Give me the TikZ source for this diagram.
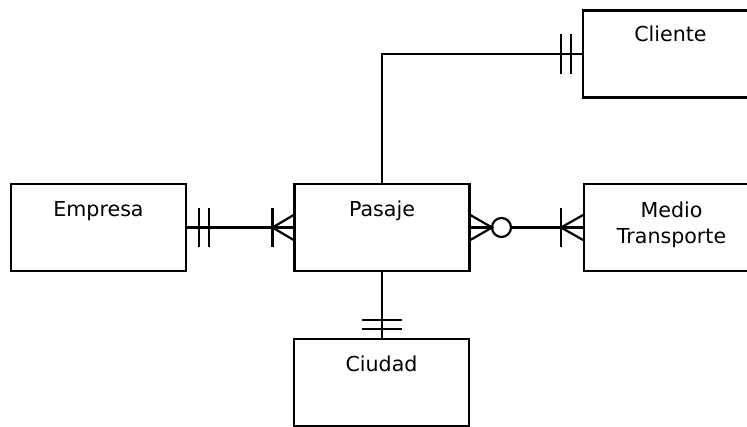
\documentclass[tikz,border=0pt]{standalone}
\usepackage{fontspec}
\setmainfont{DejaVu Sans}
\usetikzlibrary{calc}
\begin{document}
\begin{tikzpicture}[x=1pt,y=-1pt,
  ent/.style={draw,line width=2.2pt,minimum width=175pt,minimum height=87pt,inner sep=0pt,outer sep=0pt},
  lbl/.style={anchor=base,inner sep=0pt,align=center,font=\fontsize{20.6}{26}\selectfont},
  rel/.style={line width=2.2pt}]
\clip (0,0) rectangle (747,426);
\node[ent] (empresa) at (98.5,227.5) {};
\node[ent] (pasaje) at (382,227.5) {};
\node[ent] (medio) at (671.5,227.5) {};
\node[ent] (cliente) at (670.5,54) {};
\node[ent] (ciudad) at (381.5,382.5) {};
\node[lbl] (empresa-t) at ($(empresa.north)+(0,32)$) {Empresa};
\node[lbl] (pasaje-t) at ($(pasaje.north)+(0,32)$) {Pasaje};
\node[lbl] (medio-t) at ($(medio.north)+(0,59)$) {Medio\\Transporte};
\node[lbl] (cliente-t) at ($(cliente.north)+(0,31)$) {Cliente};
\node[lbl] (ciudad-t) at ($(ciudad.north)+(0,32)$) {Ciudad};
% Empresa -- Pasaje
\draw[rel] (empresa.east) -- (pasaje.west);
\draw[rel] ($(empresa.east)+(13,-19.5)$) -- ++(0,39);
\draw[rel] ($(empresa.east)+(23,-19.5)$) -- ++(0,39);
\draw[rel] ($(pasaje.west)+(-22,-19.5)$) -- ++(0,39);
\draw[rel] ($(pasaje.west)+(0,-13)$) -- ($(pasaje.west)+(-22,0)$) -- ($(pasaje.west)+(0,13)$);
% Pasaje -- Medio Transporte
\coordinate (oc) at ($(pasaje.east)+(32,0)$);
\draw[rel] (pasaje.east) -- ($(oc)+(-9.5,0)$);
\draw[rel] ($(pasaje.east)+(0,-13)$) -- ($(oc)+(-9.5,0)$) -- ($(pasaje.east)+(0,13)$);
\draw[rel] (oc) circle[radius=9.5];
\draw[rel] ($(oc)+(9.5,0)$) -- (medio.west);
\draw[rel] ($(medio.west)+(-23,-19.5)$) -- ++(0,39);
\draw[rel] ($(medio.west)+(0,-13)$) -- ($(medio.west)+(-23,0)$) -- ($(medio.west)+(0,13)$);
% Pasaje -- Ciudad
\draw[rel] (pasaje.south) -- (pasaje.south |- ciudad.north);
\draw[rel] ($(pasaje.south |- ciudad.north)+(-20,-19)$) -- ++(40,0);
\draw[rel] ($(pasaje.south |- ciudad.north)+(-20,-10)$) -- ++(40,0);
% Pasaje -- Cliente
\draw[rel] (pasaje.north) |- (cliente.west);
\draw[rel] ($(cliente.west)+(-22,-20)$) -- ++(0,40);
\draw[rel] ($(cliente.west)+(-12,-20)$) -- ++(0,40);
\end{tikzpicture}
\end{document}
